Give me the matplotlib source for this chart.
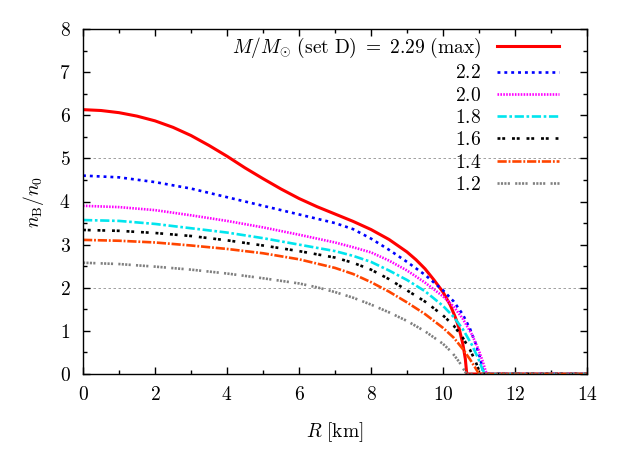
import matplotlib
matplotlib.use("Agg")
import matplotlib.pyplot as plt

plt.rcParams["font.family"] = "cmr10"
plt.rcParams["mathtext.fontset"] = "cm"
plt.rcParams["axes.unicode_minus"] = False

# radius [km] and density n_B/n_0, one pair per mass
r_229 = [0, 0.5, 1, 1.5, 2, 2.5, 3, 3.5, 4, 4.5, 5, 5.5, 6, 6.5, 7, 7.5, 8, 8.5,
         9, 9.25, 9.5, 9.75, 10, 10.2, 10.35, 10.45, 10.55, 10.62, 10.66, 14]
n_229 = [6.13, 6.11, 6.06, 5.98, 5.87, 5.72, 5.53, 5.3, 5.05, 4.78, 4.53, 4.29, 4.07,
         3.88, 3.71, 3.54, 3.35, 3.12, 2.83, 2.65, 2.44, 2.18, 1.9, 1.6, 1.3, 1.05,
         0.7, 0.35, 0.0, 0.0]

r_22 = [0, 1, 2, 3, 4, 5, 6, 7, 7.5, 8, 8.5, 9, 9.5, 10, 10.3, 10.55, 10.75, 10.9,
        11.02, 11.1, 11.13, 14]
n_22 = [4.6, 4.56, 4.45, 4.3, 4.1, 3.9, 3.7, 3.5, 3.36, 3.14, 2.88, 2.6, 2.3, 1.94,
        1.68, 1.38, 1.05, 0.72, 0.4, 0.12, 0.0, 0.0]

r_20 = [0, 1, 2, 3, 4, 5, 6, 7, 7.5, 8, 8.5, 9, 9.5, 10, 10.3, 10.55, 10.8, 10.98,
        11.1, 11.18, 11.22, 14]
n_20 = [3.9, 3.87, 3.8, 3.68, 3.55, 3.4, 3.23, 3.05, 2.94, 2.82, 2.63, 2.4, 2.12, 1.8,
        1.56, 1.28, 0.92, 0.58, 0.3, 0.08, 0.0, 0.0]

r_18 = [0, 1, 2, 3, 4, 5, 6, 7, 7.5, 8, 8.5, 9, 9.5, 10, 10.3, 10.55, 10.8, 10.98,
        11.1, 11.17, 14]
n_18 = [3.57, 3.55, 3.48, 3.38, 3.28, 3.15, 3.0, 2.85, 2.74, 2.6, 2.4, 2.18, 1.92,
        1.58, 1.32, 1.04, 0.68, 0.36, 0.1, 0.0, 0.0]

r_16 = [0, 1, 2, 3, 4, 5, 6, 7, 7.5, 8, 8.5, 9, 9.5, 10, 10.3, 10.55, 10.75, 10.9,
        11.0, 11.04, 14]
n_16 = [3.34, 3.32, 3.27, 3.2, 3.1, 2.98, 2.85, 2.7, 2.58, 2.42, 2.2, 1.94, 1.68,
        1.36, 1.12, 0.84, 0.56, 0.3, 0.08, 0.0, 0.0]

r_14 = [0, 1, 2, 3, 4, 5, 6, 7, 7.5, 8, 8.5, 9, 9.5, 10, 10.3, 10.55, 10.75, 10.9,
        10.98, 11.0, 14]
n_14 = [3.11, 3.09, 3.05, 2.98, 2.9, 2.8, 2.66, 2.46, 2.32, 2.13, 1.91, 1.66, 1.39,
        1.07, 0.84, 0.58, 0.34, 0.14, 0.03, 0.0, 0.0]

r_12 = [0, 1, 2, 3, 4, 5, 6, 6.5, 7, 7.5, 8, 8.5, 9, 9.5, 10, 10.25, 10.45, 10.58,
        10.64, 10.66, 14]
n_12 = [2.58, 2.55, 2.49, 2.42, 2.33, 2.22, 2.1, 2.01, 1.9, 1.77, 1.61, 1.43, 1.23,
        0.99, 0.7, 0.5, 0.28, 0.1, 0.02, 0.0, 0.0]

labels = [r"$M/M_{\odot}\ (\mathrm{set\ D})\ =\ 2.29\ (\mathrm{max})$",
          "$2.2$", "$2.0$", "$1.8$", "$1.6$", "$1.4$", "$1.2$"]

xticks = [0, 2, 4, 6, 8, 10, 12, 14]
yticks = [0, 1, 2, 3, 4, 5, 6, 7, 8]
grid_levels = [2, 5]

# the figure
fig = plt.figure(figsize=(6.32, 4.5), dpi=100)
ax = fig.add_axes([83 / 632, 1 - 374 / 450, 504 / 632, 345 / 450])

# dashed guide lines
for g in grid_levels:
    ax.axhline(g, color="#909090", lw=0.6, ls=(0, (3, 3)), zorder=1)

# and the curves
ax.plot(r_229, n_229, color="#ff0000", lw=2.2, ls="-", label=labels[0])
ax.plot(r_22, n_22, color="#0000ff", lw=1.9, ls=(0, (1.1, 1.5)), label=labels[1])
ax.plot(r_20, n_20, color="#ff00ff", lw=1.9, ls=(0, (0.6, 0.5)), label=labels[2])
ax.plot(r_18, n_18, color="#00e5ee", lw=1.9, ls=(0, (3.5, 1, 1, 1)), label=labels[3])
ax.plot(r_16, n_16, color="#000000", lw=1.9, ls=(0, (1.1, 0.7, 1.1, 2.6)), label=labels[4])
ax.plot(r_14, n_14, color="#ff4500", lw=1.9, ls=(0, (3.5, 0.7, 0.7, 0.7)), label=labels[5])
ax.plot(r_12, n_12, color="#808080", lw=1.9,
        ls=(0, (0.8, 0.5, 0.8, 0.5, 0.8, 0.5, 0.8, 2.0)), label=labels[6])

# axes
ax.set_xlim(0, 14)
ax.set_ylim(0, 8)
ax.set_xticks(xticks)
ax.set_xticklabels([f"${t}$" for t in xticks])
ax.set_yticks(yticks)
ax.set_yticklabels([f"${t}$" for t in yticks])
ax.set_xticks(range(0, 15), minor=True)
ax.set_yticks([i * 0.5 for i in range(17)], minor=True)
ax.tick_params(which="both", direction="in", top=True, right=True, width=1.0,
               labelsize=14)
ax.tick_params(which="major", length=5, pad=9)
ax.tick_params(which="minor", length=3)
for s in ax.spines.values():
    s.set_linewidth(1.0)

ax.set_xlabel(r"$R\ [\mathrm{km}]$", fontsize=14, va="center")
ax.set_ylabel(r"$n_{\mathrm{B}}/n_0$", fontsize=14, va="center")
ax.xaxis.set_label_coords(0.5, (374 - 432) / 345)
ax.yaxis.set_label_coords((33 - 83) / 504, 0.5)

leg = ax.legend(loc="upper right", bbox_to_anchor=((559 - 83) / 504, (374 - 36) / 345),
                markerfirst=False, frameon=False, fontsize=14, handlelength=3.2,
                handletextpad=0.8, labelspacing=0.22, borderpad=0, borderaxespad=0)

fig.savefig("out.png", dpi=100)
